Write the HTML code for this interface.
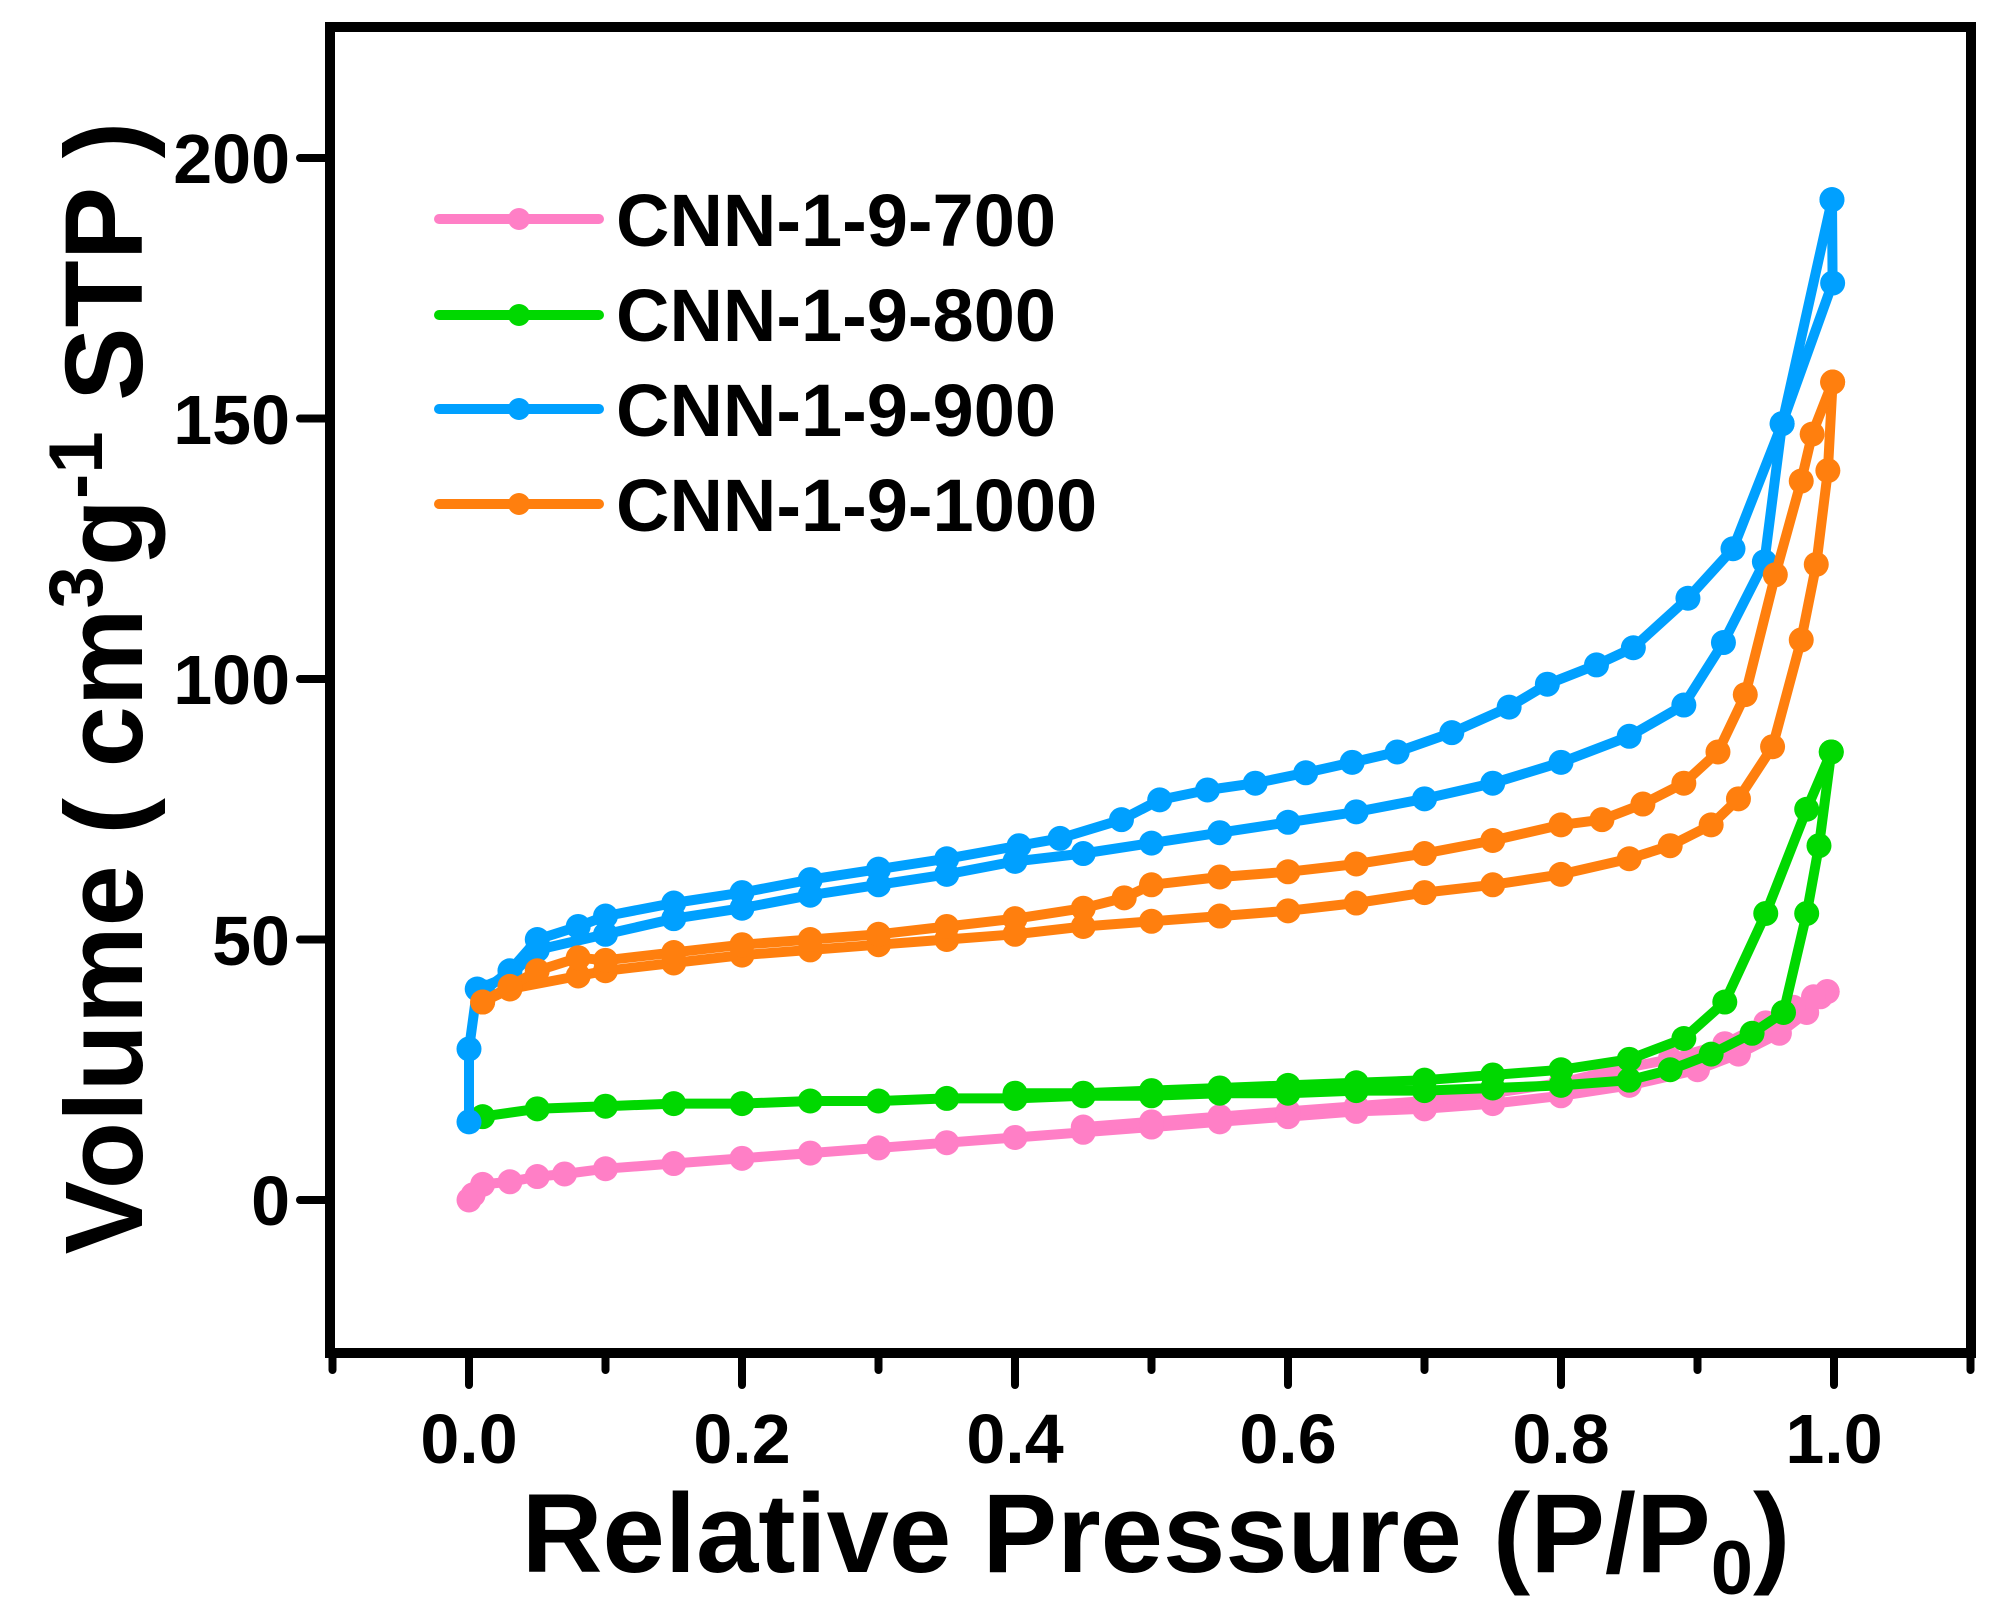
<!DOCTYPE html>
<html><head><meta charset="utf-8"><style>
html,body{margin:0;padding:0;background:#fff;}
svg{display:block;}
text{font-family:"Liberation Sans",Arial,sans-serif;font-weight:bold;fill:#000;}
</style></head><body>
<svg id="s" width="1997" height="1623" viewBox="0 0 1997 1623" xmlns="http://www.w3.org/2000/svg">
<rect x="0" y="0" width="1997" height="1623" fill="#fff"/>
<g id="data"></g>
<rect x="330" y="27" width="1641" height="1326" fill="none" stroke="#000" stroke-width="10"/>
<g id="ticks" stroke="#000" stroke-width="8" stroke-linecap="round"></g>
<g font-size="70" text-anchor="end">
<text x="290" y="1225">0</text>
<text x="290" y="965">50</text>
<text x="290" y="704">100</text>
<text x="290" y="444">150</text>
<text x="290" y="183">200</text>
</g>
<g font-size="70" text-anchor="middle">
<text x="469" y="1463">0.0</text>
<text x="742" y="1463">0.2</text>
<text x="1015" y="1463">0.4</text>
<text x="1288" y="1463">0.6</text>
<text x="1561" y="1463">0.8</text>
<text x="1834" y="1463">1.0</text>
</g>
<text x="1156" y="1572" font-size="112" text-anchor="middle">Relative Pressure (P/P<tspan font-size="76" dy="22">0</tspan><tspan dy="-22">)</tspan></text>
<text transform="translate(142,688) rotate(-90)" font-size="110" text-anchor="middle">Volume ( cm<tspan font-size="76" dy="-40">3</tspan><tspan dy="40">g</tspan><tspan font-size="76" dy="-40">-1</tspan><tspan dy="40"> STP )</tspan></text>
<g id="legend"></g>
<g font-size="74">
<text x="616" y="246">CNN-1-9-700</text>
<text x="616" y="341">CNN-1-9-800</text>
<text x="616" y="436">CNN-1-9-900</text>
<text x="616" y="531">CNN-1-9-1000</text>
</g>
</svg>
<script>
var NS="http://www.w3.org/2000/svg";
function X(p){return 469+p*1365;}
function Y(v){return 1200-v*5.21;}
function el(t,a,parent){var e=document.createElementNS(NS,t);for(var k in a)e.setAttribute(k,a[k]);parent.appendChild(e);return e;}
var ticks=document.getElementById('ticks');
for(var i=-1;i<=11;i++){var p=i/10;var major=(i%2==0);el('line',{x1:X(p),y1:1353,x2:X(p),y2:major?1385:1370},ticks);}
for(var v=0;v<=200;v+=50){el('line',{x1:300,y1:Y(v),x2:330,y2:Y(v)},ticks);}
var series=[
{c:"#ff7fc6",a:[[0,0],[0.003,1],[0.01,3],[0.03,3.5],[0.05,4.5],[0.07,5],[0.1,6],[0.15,7],[0.2,8],[0.25,9],[0.3,10],[0.35,11],[0.4,12],[0.45,13],[0.5,14],[0.55,15],[0.6,16],[0.65,17],[0.7,17.5],[0.75,18.5],[0.8,20],[0.85,22],[0.9,25],[0.93,28],[0.96,32],[0.98,36],[0.99,39],[0.995,40]],
 d:[[0.995,40],[0.985,39],[0.97,37],[0.95,34],[0.92,30],[0.88,27],[0.84,25],[0.8,22.5],[0.75,20.5],[0.7,19],[0.65,18],[0.6,17],[0.55,16],[0.5,15],[0.45,14]]},
{c:"#00d800",a:[[0.01,16],[0.05,17.5],[0.1,18],[0.15,18.5],[0.2,18.5],[0.25,19],[0.3,19],[0.35,19.5],[0.4,19.5],[0.45,20],[0.5,20],[0.55,20.5],[0.6,20.5],[0.65,21],[0.7,21],[0.75,21.5],[0.8,22],[0.85,23],[0.88,25],[0.91,28],[0.94,32],[0.963,36],[0.98,55],[0.989,68],[0.998,86]],
 d:[[0.998,86],[0.98,75],[0.95,55],[0.92,38],[0.89,31],[0.85,27],[0.8,25],[0.75,24],[0.7,23],[0.65,22.5],[0.6,22],[0.55,21.5],[0.5,21],[0.45,20.5],[0.4,20.5]]},
{c:"#00a0ff",a:[[0,15],[0,29],[0.006,40.5],[0.03,43],[0.05,48],[0.1,51],[0.15,54],[0.2,56],[0.25,58.5],[0.3,60.5],[0.35,62.5],[0.4,65],[0.45,66.5],[0.5,68.5],[0.55,70.5],[0.6,72.5],[0.65,74.5],[0.7,77],[0.75,80],[0.8,84],[0.85,89],[0.89,95],[0.919,107],[0.949,122.5],[0.962,149],[0.999,176],[0.9985,192]],
 d:[[0.9985,192],[0.962,149],[0.926,125],[0.893,115.5],[0.853,106],[0.826,102.7],[0.79,99],[0.762,94.6],[0.72,89.7],[0.68,86],[0.647,84],[0.613,82],[0.576,80],[0.541,78.7],[0.506,76.8],[0.478,73],[0.433,69.4],[0.403,68],[0.35,65.5],[0.3,63.5],[0.25,61.5],[0.2,59],[0.15,57],[0.1,54.5],[0.08,52.5],[0.05,50],[0.03,44],[0.01,40]]},
{c:"#ff7f0e",a:[[0.01,38],[0.03,40.5],[0.08,43],[0.1,44],[0.15,45.5],[0.2,47],[0.25,48],[0.3,49],[0.35,50],[0.4,51],[0.45,52.5],[0.5,53.5],[0.55,54.5],[0.6,55.5],[0.65,57],[0.7,59],[0.75,60.5],[0.8,62.5],[0.85,65.5],[0.88,68],[0.91,72],[0.93,77],[0.955,87],[0.976,107.5],[0.987,122],[0.9955,140],[0.999,157]],
 d:[[0.999,157],[0.984,147],[0.976,138],[0.957,120],[0.935,97],[0.915,86],[0.89,80],[0.86,76],[0.83,73],[0.8,72],[0.75,69],[0.7,66.5],[0.65,64.5],[0.6,63],[0.55,62],[0.5,60.5],[0.48,58],[0.45,56],[0.4,54],[0.35,52.5],[0.3,51],[0.25,50],[0.2,49],[0.15,47.5],[0.1,46],[0.08,46.5],[0.05,44],[0.03,41],[0.01,38]]}
];
var g=document.getElementById('data');
series.forEach(function(s){
 [s.a,s.d].forEach(function(arr){
  var pts=arr.map(function(q){return X(q[0]).toFixed(1)+","+Y(q[1]).toFixed(1);}).join(" ");
  el('polyline',{points:pts,fill:"none",stroke:s.c,"stroke-width":10,"stroke-linejoin":"round"},g);
  arr.forEach(function(q){el('circle',{cx:X(q[0]),cy:Y(q[1]),r:12.5,fill:s.c},g);});
 });
});
var lg=document.getElementById('legend');
var ly=[219,315,409,504];
series.forEach(function(s,i){
 el('line',{x1:439,y1:ly[i],x2:599,y2:ly[i],stroke:s.c,"stroke-width":10,"stroke-linecap":"round"},lg);
 el('circle',{cx:519,cy:ly[i],r:11,fill:s.c},lg);
});
</script>
</body></html>
